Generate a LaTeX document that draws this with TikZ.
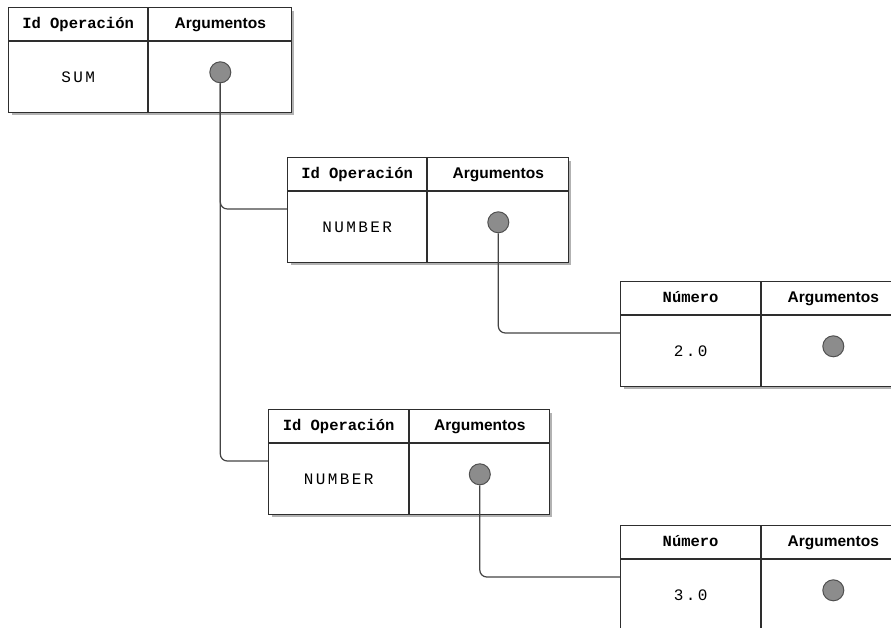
\documentclass[tikz,border=0pt]{standalone}
\usepackage{fontspec}
\setmainfont{Liberation Sans}
\newfontfamily\monofont{Liberation Mono}
\newfontfamily\valfont[LetterSpace=15]{Liberation Mono}
\usetikzlibrary{shadows}

\definecolor{linegray}{HTML}{2E2E2E}
\definecolor{wiregray}{HTML}{444444}
\definecolor{dotgray}{HTML}{8C8C8C}
\definecolor{dotedge}{HTML}{505050}

\newcommand{\hdmono}{\monofont\bfseries\fontsize{15.5}{17}\selectfont}
\newcommand{\hdsans}{\bfseries\fontsize{15.5}{17}\selectfont}
\newcommand{\valtext}{\valfont\fontsize{16}{18}\selectfont}

\tikzset{
  tabbox/.style={draw=linegray, fill=white, line width=1.2pt, inner sep=0pt,
    anchor=north west,
    drop shadow={shadow xshift=3pt, shadow yshift=-3pt, opacity=0.3, fill=black}},
  cell/.style={draw=linegray, fill=white, line width=1.2pt, inner sep=0pt,
    anchor=north west},
  headcell/.style={cell, minimum height=33, text height=11pt, text depth=3pt},
  dot/.style={circle, draw=dotedge, fill=dotgray, minimum size=21pt,
    inner sep=0pt, line width=1pt},
  link/.style={draw=wiregray, line width=1.2pt, rounded corners=7pt},
}

% one table: name, x, y, first column width, second column width, header, value
\newcommand{\tabla}[7]{
  \node[tabbox, minimum width=#4+#5, minimum height=104] (#1) at (#2,#3) {};
  \node[headcell, minimum width=#4] (#1h) at (#1.north west) {\hdmono #6};
  \node[headcell, minimum width=#5] (#1a) at (#1h.north east) {\hdsans Argumentos};
  \node[cell, minimum width=#4, minimum height=71] (#1v) at (#1h.south west) {\valtext #7};
  \node[cell, minimum width=#5, minimum height=71] (#1c) at (#1v.north east) {};
  \node[dot] (#1d) at ([yshift=5pt]#1c.center) {};
  \coordinate (#1in) at ([yshift=-52pt]#1.north west);
}

\begin{document}
\begin{tikzpicture}[x=1pt,y=-1pt]

  \useasboundingbox (0,0) rectangle (891,628);
  \clip (0,0) rectangle (891,628);

  % tables
  \tabla{sum}{8}{7}{139}{143}{Id Operación}{SUM}
  \tabla{numa}{287}{157}{139}{141}{Id Operación}{NUMBER}
  \tabla{vala}{620}{281}{140}{143}{Número}{2.0}
  \tabla{numb}{268}{409}{140}{140}{Id Operación}{NUMBER}
  \tabla{valb}{620}{525}{140}{143}{Número}{3.0}

  % connectors
  \draw[link] (sumd.south) |- (numain);
  \draw[link] (sumd.south) |- (numbin);
  \draw[link] (numad.south) |- (valain);
  \draw[link] (numbd.south) |- (valbin);

\end{tikzpicture}
\end{document}
